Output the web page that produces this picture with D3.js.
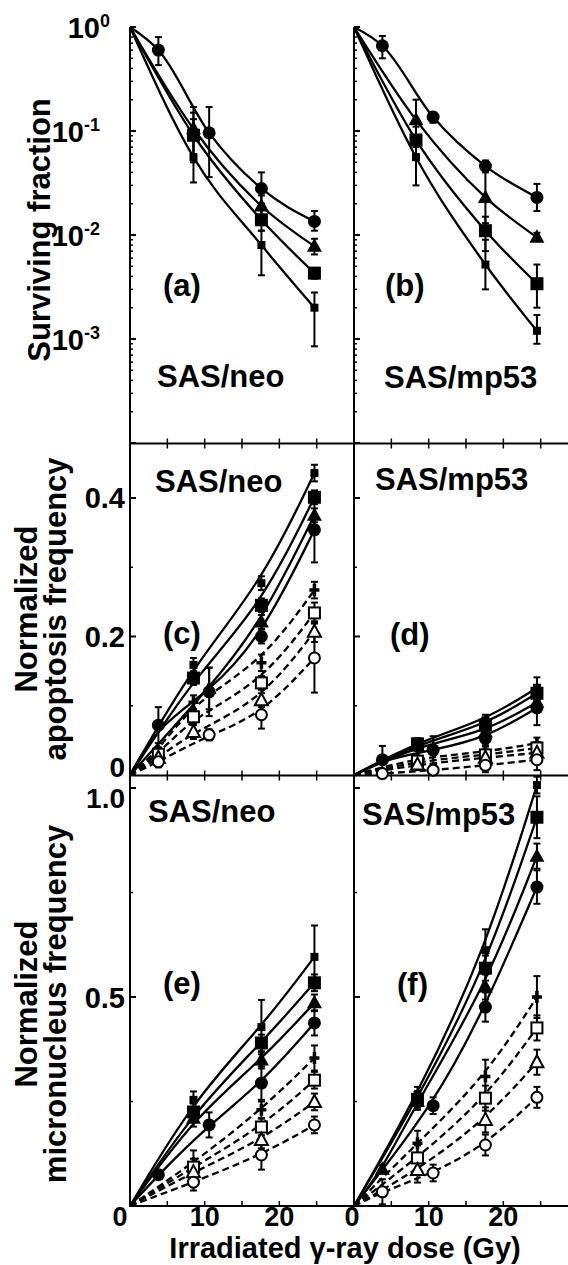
<!DOCTYPE html>
<html>
<head>
<meta charset="utf-8">
<script src="https://cdn.jsdelivr.net/npm/d3@7"></script>
<style>
  body { margin: 0; background: #fff; }
  svg text { font-family: "Liberation Sans", Arial, Helvetica, sans-serif; font-weight: bold; fill: #000; }
</style>
</head>
<body>
<svg id="chart" width="568" height="1265"></svg>
<script>
// ---- data ----
// each row: [series, doses (Gy), values, errors]
// survival panels use [low, high] error bounds, the others +/- half widths
var survNeo = [
  ["fCirc",    [3.8, 10.6, 17.6, 24.7], [0.60, 0.096, 0.028, 0.0135], [[0.43, 0.80], [0.036, 0.17], [0.020, 0.040], [0.011, 0.017]]],
  ["fTri",     [8.5, 17.6, 24.7], [0.105, 0.019, 0.0078], [[0.06, 0.17], [0.015, 0.024], [0.0065, 0.0092]]],
  ["fSq",      [8.5, 17.6, 24.7], [0.091, 0.014, 0.0043], [[0.05, 0.15], [0.011, 0.018], [0.0038, 0.0048]]],
  ["fSmallSq", [8.5, 17.6, 24.7], [0.056, 0.008, 0.002],  [[0.032, 0.13], [0.0041, 0.011], [0.00085, 0.0028]]]
];
var survMp53 = [
  ["fCirc",    [3.8, 10.6, 17.6, 24.5], [0.66, 0.136, 0.046, 0.023], [[0.50, 0.82], [0.12, 0.15], [0.041, 0.052], [0.017, 0.031]]],
  ["fTri",     [8.3, 17.6, 24.5], [0.128, 0.023, 0.0095], [[0.07, 0.20], [0.013, 0.040], [0.0088, 0.0105]]],
  ["fSq",      [8.3, 17.6, 24.5], [0.082, 0.011, 0.0034], [[0.06, 0.11], [0.007, 0.015], [0.002, 0.0052]]],
  ["fSmallSq", [8.3, 17.6, 24.5], [0.056, 0.0052, 0.0012], [[0.03, 0.12], [0.003, 0.009], [0.0009, 0.0017]]]
];
var apoNeo = [
  ["fSmallSq", [8.5, 17.6, 24.7], [0.159, 0.277, 0.436], [0.01, 0.01, 0.012]],
  ["fSq",      [8.5, 17.6, 24.7], [0.14, 0.245, 0.401], [0.01, 0.01, 0.01]],
  ["fTri",     [10.6, 17.6, 24.7], [0.125, 0.221, 0.375], [0.03, 0.01, 0.01]],
  ["fCirc",    [3.8, 10.6, 17.6, 24.7], [0.072, 0.12, 0.20, 0.354], [0.026, 0.035, 0.01, 0.047]],
  ["oCross",   [3.8, 8.5, 17.6, 24.7], [0.035, 0.105, 0.162, 0.267], [0.005, 0.01, 0.012, 0.012]],
  ["oSq",      [3.8, 8.5, 17.6, 24.7], [0.03, 0.084, 0.133, 0.234], [0.005, 0.01, 0.01, 0.015]],
  ["oTri",     [3.8, 8.5, 17.6, 24.7], [0.025, 0.062, 0.108, 0.207], [0.005, 0.01, 0.01, 0.015]],
  ["oCirc",    [3.8, 10.6, 17.6, 24.7], [0.019, 0.058, 0.087, 0.169], [0.008, 0.008, 0.02, 0.05]]
];
var apoMp53 = [
  ["fSmallSq", [8.5, 17.6, 24.5], [0.048, 0.079, 0.126], [0.005, 0.008, 0.015]],
  ["fSq",      [8.5, 17.6, 24.5], [0.045, 0.072, 0.118], [0.005, 0.008, 0.01]],
  ["fTri",     [8.5, 17.6, 24.5], [0.042, 0.062, 0.105], [0.005, 0.008, 0.01]],
  ["fCirc",    [3.8, 10.6, 17.6, 24.5], [0.022, 0.036, 0.053, 0.097], [0.02, 0.02, 0.01, 0.025]],
  ["oCross",   [8.5, 17.6, 24.5], [0.025, 0.033, 0.046], [0.01, 0.008, 0.008]],
  ["oSq",      [8.5, 17.6, 24.5], [0.02, 0.029, 0.039], [0.008, 0.008, 0.008]],
  ["oTri",     [8.5, 17.6, 24.5], [0.015, 0.025, 0.032], [0.008, 0.008, 0.008]],
  ["oCirc",    [3.8, 10.6, 17.6, 24.5], [0.002, 0.007, 0.014, 0.022], [0.005, 0.008, 0.01, 0.015]]
];
var mnNeo = [
  ["fSmallSq", [8.5, 17.6, 24.7], [0.254, 0.428, 0.596], [0.02, 0.065, 0.075]],
  ["fSq",      [8.5, 17.6, 24.7], [0.225, 0.39, 0.534], [0.02, 0.02, 0.02]],
  ["fTri",     [8.5, 17.6, 24.7], [0.21, 0.349, 0.486], [0.02, 0.02, 0.02]],
  ["fCirc",    [3.8, 10.6, 17.6, 24.7], [0.075, 0.194, 0.294, 0.438], [0.01, 0.03, 0.04, 0.03]],
  ["oCross",   [8.5, 17.6, 24.7], [0.103, 0.23, 0.354], [0.03, 0.02, 0.03]],
  ["oSq",      [8.5, 17.6, 24.7], [0.093, 0.189, 0.301], [0.02, 0.02, 0.02]],
  ["oTri",     [8.5, 17.6, 24.7], [0.081, 0.158, 0.249], [0.02, 0.02, 0.02]],
  ["oCirc",    [8.5, 17.6, 24.7], [0.057, 0.122, 0.194], [0.02, 0.035, 0.02]]
];
var mnMp53 = [
  ["fSmallSq", [8.5, 17.6, 24.5], [0.265, 0.612, 1.007], [0.02, 0.05, 0.02]],
  ["fSq",      [8.5, 17.6, 24.5], [0.255, 0.569, 0.93], [0.02, 0.03, 0.05]],
  ["fTri",     [3.8, 8.5, 17.6, 24.5], [0.088, 0.25, 0.524, 0.837], [0.01, 0.02, 0.03, 0.03]],
  ["fCirc",    [10.6, 17.6, 24.5], [0.24, 0.476, 0.763], [0.02, 0.035, 0.04]],
  ["oCross",   [8.5, 17.6, 24.5], [0.15, 0.31, 0.5], [0.03, 0.04, 0.05]],
  ["oSq",      [8.5, 17.6, 24.5], [0.115, 0.258, 0.426], [0.03, 0.03, 0.03]],
  ["oTri",     [8.5, 17.6, 24.5], [0.086, 0.206, 0.344], [0.03, 0.03, 0.03]],
  ["oCirc",    [3.8, 10.6, 17.6, 24.5], [0.034, 0.079, 0.146, 0.26], [0.03, 0.02, 0.025, 0.025]]
];
var xTickLabels = [0, 10, 20];
var survTicks = [1, 0.1, 0.01, 0.001];
var apoTicks = [0, 0.2, 0.4];
var mnTicks = [0.5, 1.0];

// ---- layout ----
var svg = d3.select("#chart");
var xLeft = d3.scaleLinear().domain([0, 30]).range([130, 354]);
var xRight = d3.scaleLinear().domain([0, 30]).range([354, 578]);
var ySurv = d3.scaleLog().domain([1, 1e-4]).range([27, 443]);
var yApo = d3.scaleLinear().domain([0, 0.4]).range([775, 498]);
var yMn = d3.scaleLinear().domain([0, 1]).range([1206, 788]);

function frameLine(x1, y1, x2, y2) {
  svg.append("line").attr("x1", x1).attr("y1", y1).attr("x2", x2).attr("y2", y2)
    .attr("stroke", "#000").attr("stroke-width", 2);
}

// inward ticks on the y axes (labels drawn separately)
function yTicks(x, scale, major, minor) {
  var g = svg.append("g");
  minor.forEach(function(v) {
    g.append("line").attr("x1", x).attr("x2", x + 3).attr("y1", scale(v)).attr("y2", scale(v))
      .attr("stroke", "#000").attr("stroke-width", 1.5);
  });
  major.forEach(function(v) {
    g.append("line").attr("x1", x).attr("x2", x + 6).attr("y1", scale(v)).attr("y2", scale(v))
      .attr("stroke", "#000").attr("stroke-width", 2);
  });
}

function xTicks(xs, y, dir) {
  d3.range(5, 30, 5).forEach(function(v) {
    svg.append("line").attr("x1", xs(v)).attr("x2", xs(v)).attr("y1", y).attr("y2", y + dir * 5)
      .attr("stroke", "#000").attr("stroke-width", 1.5);
  });
}

var logMinor = [];
[1, 0.1, 0.01, 0.001].forEach(function(d) {
  for (var k = 2; k <= 9; k++) logMinor.push(d * k / 10);
});

[130, 354].forEach(function(x) {
  yTicks(x, ySurv, survTicks.concat([1e-4]), logMinor);
  yTicks(x, yApo, apoTicks, [0.1, 0.3]);
  yTicks(x, yMn, mnTicks, [0.25, 0.75]);
});
[xLeft, xRight].forEach(function(xs) {
  xTicks(xs, 443.5, -1);
  xTicks(xs, 443.5, 1);
  xTicks(xs, 775.5, -1);
  xTicks(xs, 775.5, 1);
  xTicks(xs, 1206, -1);
});

// frame
frameLine(130, 27, 130, 1207);
frameLine(354, 27, 354, 1207);
frameLine(129, 443.5, 568, 443.5);
frameLine(129, 775.5, 568, 775.5);
frameLine(129, 1206, 568, 1206);

// ---- markers ----
function marker(g, key, cx, cy) {
  if (key === "fCirc") g.append("circle").attr("cx", cx).attr("cy", cy).attr("r", 6.5).attr("fill", "#000");
  else if (key === "fSq") g.append("rect").attr("x", cx - 6.5).attr("y", cy - 6.5).attr("width", 13).attr("height", 13).attr("fill", "#000");
  else if (key === "fSmallSq") g.append("rect").attr("x", cx - 4).attr("y", cy - 4).attr("width", 8).attr("height", 8).attr("fill", "#000");
  else if (key === "fTri") g.append("path").attr("d", "M" + cx + "," + (cy - 8) + "L" + (cx + 7.5) + "," + (cy + 5.5) + "L" + (cx - 7.5) + "," + (cy + 5.5) + "Z").attr("fill", "#000");
  else if (key === "oCross") g.append("path").attr("d", "M" + (cx - 5) + "," + cy + "H" + (cx + 5) + "M" + cx + "," + (cy - 6) + "V" + (cy + 6)).attr("stroke", "#000").attr("stroke-width", 3.5);
  else if (key === "oSq") g.append("rect").attr("x", cx - 5.5).attr("y", cy - 5.5).attr("width", 11).attr("height", 11).attr("fill", "#fff").attr("stroke", "#000").attr("stroke-width", 2);
  else if (key === "oTri") g.append("path").attr("d", "M" + cx + "," + (cy - 7) + "L" + (cx + 6.5) + "," + (cy + 5) + "L" + (cx - 6.5) + "," + (cy + 5) + "Z").attr("fill", "#fff").attr("stroke", "#000").attr("stroke-width", 2);
  else if (key === "oCirc") g.append("circle").attr("cx", cx).attr("cy", cy).attr("r", 5.5).attr("fill", "#fff").attr("stroke", "#000").attr("stroke-width", 2);
}

function drawSeries(series, xs, ys, origin, bounds) {
  var g = svg.append("g");
  var line = d3.line().x(function(d) { return xs(d[0]); }).y(function(d) { return ys(d[1]); })
    .curve(bounds ? d3.curveMonotoneX : d3.curveBasis);
  series.forEach(function(s) {
    var pts = [[0, origin]].concat(s[1].map(function(d, i) { return [d, s[2][i]]; }));
    g.append("path").datum(pts).attr("d", line)
      .attr("fill", "none").attr("stroke", "#000").attr("stroke-width", 2.3)
      .attr("stroke-dasharray", s[0][0] === "o" ? "7,4" : null);
  });
  series.forEach(function(s) {
    s[1].forEach(function(d, i) {
      var e = s[3][i];
      if (e == null) return;
      var lo = bounds ? e[0] : Math.max(0, s[2][i] - e);
      var hi = bounds ? e[1] : s[2][i] + e;
      var x = xs(d), y1 = ys(lo), y2 = ys(hi);
      g.append("line").attr("x1", x).attr("x2", x).attr("y1", y1).attr("y2", y2).attr("stroke", "#000").attr("stroke-width", 2);
      [y1, y2].forEach(function(y) {
        g.append("line").attr("x1", x - 3.5).attr("x2", x + 3.5).attr("y1", y).attr("y2", y).attr("stroke", "#000").attr("stroke-width", 2);
      });
    });
  });
  series.forEach(function(s) {
    s[1].forEach(function(d, i) { marker(g, s[0], xs(d), ys(s[2][i])); });
  });
}

drawSeries(survNeo, xLeft, ySurv, 1, true);
drawSeries(survMp53, xRight, ySurv, 1, true);
drawSeries(apoNeo, xLeft, yApo, 0, false);
drawSeries(apoMp53, xRight, yApo, 0, false);
drawSeries(mnNeo, xLeft, yMn, 0, false);
drawSeries(mnMp53, xRight, yMn, 0, false);

// ---- tick labels ----
var tickFont = 29;
survTicks.forEach(function(v) {
  var exp = Math.round(Math.log10(v));
  var t = svg.append("text").attr("x", exp === 0 ? 110 : 100).attr("y", ySurv(v) + 11)
    .attr("text-anchor", "end").style("font-size", tickFont + "px");
  t.append("tspan").text("10");
  t.append("tspan").attr("dy", -11).style("font-size", "18px").text(String(exp));
});
apoTicks.forEach(function(v) {
  svg.append("text").attr("x", 125).attr("y", v === 0 ? 777 : yApo(v) + 10)
    .attr("text-anchor", "end").style("font-size", (v === 0 ? 28 : tickFont) + "px")
    .text(v === 0 ? "0" : d3.format(".1f")(v));
});
mnTicks.forEach(function(v) {
  svg.append("text").attr("x", 125).attr("y", v === 1 ? 808 : yMn(v) + 11)
    .attr("text-anchor", "end").style("font-size", (v === 1 ? 28 : tickFont) + "px")
    .text(d3.format(".1f")(v));
});
xTickLabels.forEach(function(v) {
  svg.append("text").attr("x", v === 0 ? 120 : xLeft(v)).attr("y", 1226)
    .attr("text-anchor", "middle").style("font-size", "27px").text(v);
  svg.append("text").attr("x", v === 0 ? 352 : xRight(v)).attr("y", 1226)
    .attr("text-anchor", "middle").style("font-size", "27px").text(v);
});

// ---- axis titles ----
var titleFont = 31;
svg.append("text").attr("text-anchor", "middle").style("font-size", "29px")
  .attr("x", 345).attr("y", 1258).text("Irradiated \u03b3-ray dose (Gy)");

function yTitle(lines, cy) {
  var t = svg.append("text").attr("text-anchor", "middle").style("font-size", titleFont + "px")
    .attr("transform", "translate(0," + cy + ") rotate(-90)");
  lines.forEach(function(l) {
    t.append("tspan").attr("x", 0).attr("y", l[1]).text(l[0]);
  });
}
yTitle([["Surviving fraction", 50]], 230);
yTitle([["Normalized", 37], ["apoptosis frequency", 66]], 609);
yTitle([["Normalized", 37], ["micronucleus frequency", 66]], 1004);

// ---- panel labels ----
var panelText = [
  ["(a)", 163, 296], ["(b)", 385, 296],
  ["SAS/neo", 157, 387], ["SAS/mp53", 384, 388],
  ["SAS/neo", 155, 492], ["SAS/mp53", 375, 490],
  ["(c)", 163, 644], ["(d)", 390, 645],
  ["SAS/neo", 148, 822], ["SAS/mp53", 362, 825],
  ["(e)", 163, 994], ["(f)", 397, 995]
];
panelText.forEach(function(p) {
  svg.append("text").attr("x", p[1]).attr("y", p[2]).style("font-size", titleFont + "px").text(p[0]);
});
</script>
</body>
</html>
